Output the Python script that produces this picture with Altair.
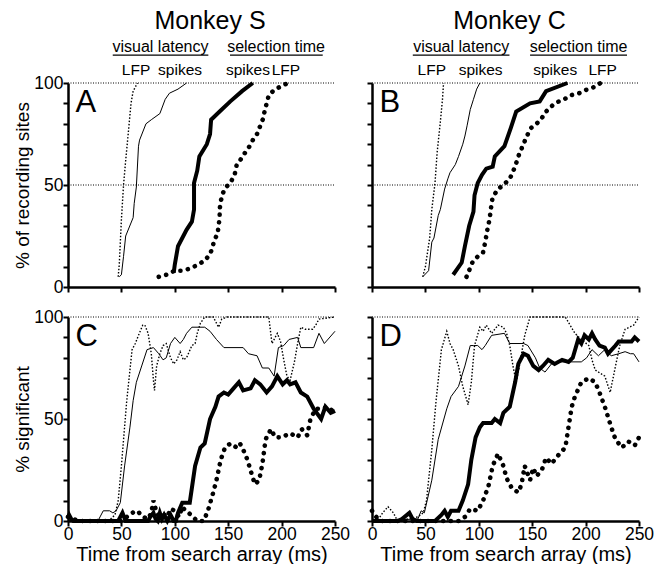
import altair as alt
import pandas as pd

FONT = "Liberation Sans"

# ---------------- data ----------------
# Panel A (Monkey S, cumulative % of recording sites)
A_lfp_vis_t = [47, 48, 50, 52, 54, 56, 59, 61, 65]
A_lfp_vis_v = [5, 11, 33, 50, 62, 73, 90, 96, 100]
A_spk_vis_t = [48, 50, 52, 54, 61, 62, 64, 66, 67, 73, 78, 86, 91, 95, 103, 111]
A_spk_vis_v = [5, 6, 15, 25, 34, 41, 49, 69, 72, 80, 82, 85, 92, 95, 97, 100]
A_spk_sel_t = [99, 100, 103, 111, 116, 118, 118, 121, 123, 130, 133, 134, 142, 152, 163, 173]
A_spk_sel_v = [7, 11, 20, 28, 32, 38, 51, 57, 64, 70, 75, 82, 86, 91, 96, 100]
A_lfp_sel_t = [85, 92, 100, 107, 114, 122, 128, 133, 135, 137, 140, 141, 142, 142, 143, 145, 148,
               152, 156, 158, 161, 166, 170, 173, 177, 180, 183, 184, 186, 188, 192, 198, 206]
A_lfp_sel_v = [5, 6, 8, 8, 9, 11, 13, 16, 19, 23, 26, 30, 34, 38, 42, 46, 49,
               51, 55, 60, 62, 66, 69, 72, 75, 79, 83, 86, 90, 94, 96, 98, 100]

# Panel B (Monkey C, cumulative % of recording sites)
B_lfp_vis_t = [47.5, 50, 54, 56, 59, 61, 64, 66, 67]
B_lfp_vis_v = [5, 10, 24, 38, 51, 66, 81, 92, 100]
B_spk_vis_t = [47.5, 53, 56, 58, 62, 64, 68, 71, 73, 78, 81, 85, 87, 89, 92, 95, 98, 101]
B_spk_vis_v = [5, 8, 22, 24, 35, 38, 48, 53, 56, 60, 64, 70, 74, 79, 87, 92, 97, 100]
B_spk_sel_t = [76, 84, 87, 91, 95, 96, 99, 103, 107, 113, 115, 124, 130, 135, 148, 157, 163, 183]
B_spk_sel_v = [6, 12, 20, 30, 37, 45, 51, 55, 58, 59, 64, 69, 78, 86, 90, 91, 96, 100]
B_lfp_sel_t = [88.5, 94, 99, 104, 106, 108, 110, 111, 112, 113, 118, 123, 129, 134, 137, 141, 145,
               149, 154, 158, 163, 169, 175, 180, 186, 194, 202, 208, 214]
B_lfp_sel_v = [5, 12, 15, 17, 22, 28, 33, 37, 41, 44, 48, 50, 53, 59, 64, 69, 74,
               78, 80, 82, 86, 89, 91, 92, 94, 95, 97, 98, 100]

# Panel C (Monkey S, % significant over time)
C_lfp_vis_t = [0, 36, 40, 44, 47, 50, 55, 60, 63, 66, 70, 72, 75, 78, 80, 81, 83, 86, 89, 92, 96,
               99, 102, 105, 108, 111, 116, 119, 121, 124, 128, 136, 141, 144, 149, 188, 191, 196,
               199, 202, 205, 208, 212, 215, 218, 222, 229, 232, 235, 250]
C_lfp_vis_v = [0, 0, 1, 3, 10, 27, 59, 84, 87, 91, 96, 96, 92, 82, 69, 64, 76, 82, 86, 87, 80,
               77, 79, 83, 79, 80, 86, 87, 92, 97, 100, 100, 95, 99, 100, 100, 87, 92,
               88, 79, 71, 69, 78, 87, 95, 94, 94, 96, 99, 100]
C_spk_vis_t = [0, 28, 30, 33, 39, 42, 45, 49, 53, 58, 61, 64, 69, 74, 80, 85, 89, 92, 96, 100,
               105, 108, 111, 116, 128, 133, 139, 146, 164, 169, 177, 182, 188, 193, 197, 202,
               207, 215, 218, 230, 235, 240, 250]
C_spk_vis_v = [0, 0, 2, 5, 5, 4, 5, 9, 27, 46, 59, 68, 76, 84, 85, 82, 79, 80, 87, 90,
               87, 89, 92, 95, 95, 93, 89, 85, 85, 82, 81, 75, 75, 71, 85, 86,
               89, 90, 85, 85, 92, 87, 93]
C_spk_sel_t = [0, 1, 3, 5, 47, 49, 51, 54, 75, 77, 80, 82, 84, 86, 88, 90, 93, 96, 99, 101, 103,
               107, 114, 119, 124, 128, 133, 138, 141, 146, 150, 155, 160, 164, 171, 175, 180,
               186, 191, 196, 201, 205, 208, 213, 218, 224, 230, 237, 241, 246, 250]
C_spk_sel_v = [2, 3, 1, 0, 0, 2, 4, 0, 0, 2, 4, 1, 0, 4, 1, 3, 0, 3, 0, 0, 4,
               9, 9, 27, 36, 38, 50, 56, 61, 63, 62, 65, 68, 64, 65, 69, 67,
               63, 66, 71, 67, 69, 67, 68, 63, 61, 55, 50, 56, 53, 54]
C_lfp_sel_t = [0, 10, 20, 30, 40, 50, 55, 60, 65, 70, 75, 78, 80, 83, 86, 90, 93, 96, 100, 104,
               107, 110, 113, 117, 121, 127, 131, 136, 139, 143, 147, 152, 158, 161, 164, 168,
               172, 175, 179, 182, 185, 190, 194, 200, 208, 215, 219, 224, 227, 232, 238, 243, 250]
C_lfp_sel_v = [2, 0, 0, 0, 0, 0, 2, 4, 5, 2, 1, 4, 10, 4, 2, 3, 2, 6, 5, 2,
               7, 5, 4, 2, 0, 0, 5, 14, 20, 30, 36, 38, 36, 38, 35, 30,
               23, 18, 20, 28, 40, 45, 41, 41, 43, 41, 45, 42, 50, 55, 55, 56, 53]

# Panel D (Monkey C, % significant over time)
D_lfp_vis_t = [0, 5, 10, 15, 20, 24, 43, 48, 51, 56, 60, 65, 70, 73, 76, 81, 85, 90, 93, 96, 101,
               104, 107, 112, 118, 123, 126, 129, 132, 135, 138, 143, 148, 181, 190, 196, 203,
               206, 209, 218, 223, 228, 232, 237, 245, 250]
D_lfp_vis_v = [0, 0, 4, 7, 4, 0, 2, 4, 10, 35, 59, 84, 93, 87, 84, 76, 66, 57, 68, 86, 95,
               93, 96, 92, 96, 95, 92, 86, 76, 68, 76, 91, 100, 100, 92, 89, 86,
               79, 74, 71, 63, 76, 86, 94, 96, 100]
D_spk_vis_t = [0, 43, 46, 49, 56, 62, 70, 74, 81, 87, 92, 95, 99, 103, 106, 112, 124, 129, 142,
               146, 153, 157, 162, 168, 174, 196, 201, 206, 212, 218, 224, 231, 237, 242, 245, 250]
D_spk_vis_v = [0, 1, 5, 4, 20, 40, 55, 61, 66, 76, 86, 86, 86, 84, 86, 91, 92, 87, 87,
               86, 80, 75, 73, 77, 78, 78, 80, 84, 81, 84, 81, 82, 83, 82, 82, 78]
D_spk_sel_t = [0, 24, 28, 35, 38, 42, 59, 65, 68, 71, 74, 81, 85, 90, 93, 97, 101, 104, 112, 115,
               120, 123, 129, 134, 137, 142, 146, 151, 156, 160, 165, 171, 178, 184, 188, 193,
               196, 199, 203, 206, 209, 213, 218, 221, 228, 231, 243, 246, 250]
D_spk_sel_v = [0, 0, 1, 4, 1, 0, 0, 3, 5, 2, 5, 5, 10, 18, 30, 41, 46, 48, 48, 50,
               48, 53, 56, 68, 77, 82, 81, 76, 74, 76, 79, 77, 79, 78, 80, 89,
               87, 91, 89, 92, 89, 86, 85, 82, 86, 88, 88, 90, 88]
D_lfp_sel_t = [0, 4, 8, 20, 40, 60, 81, 87, 92, 99, 104, 109, 113, 118, 123, 126, 131, 137, 140,
               143, 148, 151, 154, 159, 163, 168, 174, 181, 184, 187, 190, 196, 203, 209, 213,
               218, 224, 228, 234, 240, 246, 250]
D_lfp_sel_v = [5, 2, 0, 0, 0, 0, 0, 2, 6, 5, 10, 17, 27, 33, 27, 21, 16, 14, 18,
               27, 20, 26, 22, 25, 31, 28, 32, 36, 46, 56, 61, 68, 70, 68, 63,
               56, 46, 40, 36, 39, 37, 41]

X_TICKS = [0, 50, 100, 150, 200, 250]
Y_TICKS = [0, 10, 20, 30, 40, 50, 60, 70, 80, 90, 100]
X_TITLE = "Time from search array (ms)"

# ---------------- helpers ----------------
STYLES = {
    "lfp_vis": dict(strokeWidth=1.4, strokeDash=[1.5, 1.8]),
    "spk_vis": dict(strokeWidth=1.0),
    "spk_sel": dict(strokeWidth=4),
    "lfp_sel": dict(strokeWidth=4.6, strokeDash=[0.1, 7.5], strokeCap="round"),
}

W, H = 267, 204


def series_df(ts, vs):
    return pd.DataFrame({"x": ts, "y": vs, "o": list(range(len(ts)))})


def make_panel(series, letter, top, left, ytitle, refs, texts=None, lines=None):
    if top:
        xaxis = alt.Axis(values=X_TICKS, labels=False, title=None)
    else:
        xaxis = alt.Axis(values=X_TICKS, title=X_TITLE, titleFontSize=20, titleY=39,
                         titleBaseline="alphabetic", labelPadding=-1)
    xenc = alt.X("x:Q", scale=alt.Scale(domain=[0, 250], nice=False, zero=False), axis=xaxis)
    if left:
        yaxis = alt.Axis(values=Y_TICKS, labelExpr="datum.value % 50 == 0 ? datum.label : ''",
                         title=ytitle)
    else:
        yaxis = alt.Axis(values=Y_TICKS, labels=False, title=None)
    yenc = alt.Y("y:Q", scale=alt.Scale(domain=[0, 100], nice=False), axis=yaxis)

    ref_df = pd.DataFrame({"x": [0] * len(refs), "x2": [250] * len(refs), "y": refs})
    layers = [alt.Chart(ref_df).mark_rule(color="black", strokeWidth=1, strokeDash=[1, 1.5])
              .encode(x=xenc, x2="x2:Q", y=yenc)]
    for key in ["lfp_vis", "spk_vis", "lfp_sel", "spk_sel"]:
        ts, vs = series[key]
        layers.append(alt.Chart(series_df(ts, vs)).mark_line(color="black", **STYLES[key])
                      .encode(x=xenc, y=yenc, order="o:Q"))
    let_df = pd.DataFrame({"x": [7], "y": [86], "t": [letter]})
    layers.append(alt.Chart(let_df).mark_text(font=FONT, fontSize=31, align="left",
                                             baseline="alphabetic", color="black")
                  .encode(x=xenc, y=yenc, text="t:N"))
    if texts is not None:
        tdf = pd.DataFrame(texts, columns=["t", "x", "y", "fs"])
        layers.append(alt.Chart(tdf).mark_text(font=FONT, align="center", baseline="alphabetic",
                                               color="black")
                      .encode(x=xenc, y=yenc, text="t:N",
                              size=alt.Size("fs:Q", scale=None, legend=None)))
    if lines is not None:
        ldf = pd.DataFrame(lines, columns=["x", "x2", "y"])
        layers.append(alt.Chart(ldf).mark_rule(color="black", strokeWidth=1.2)
                      .encode(x=xenc, x2="x2:Q", y=yenc))
    return alt.layer(*layers).properties(width=W, height=H)


A = make_panel(
    {"lfp_vis": (A_lfp_vis_t, A_lfp_vis_v), "spk_vis": (A_spk_vis_t, A_spk_vis_v),
     "spk_sel": (A_spk_sel_t, A_spk_sel_v), "lfp_sel": (A_lfp_sel_t, A_lfp_sel_v)},
    "A", True, True, "% of recording sites", [50, 100],
    texts=[("Monkey S", 133, 126.5, 25), ("visual latency", 86.6, 115, 16),
           ("selection time", 194.8, 115, 16), ("LFP", 63.7, 104, 15.5),
           ("spikes", 104.9, 104, 15.5), ("spikes", 168.5, 104, 15.5), ("LFP", 204, 104, 15.5)],
    lines=[(41.9, 131.4, 113.7), (151.7, 238.5, 113.7)])

B = make_panel(
    {"lfp_vis": (B_lfp_vis_t, B_lfp_vis_v), "spk_vis": (B_spk_vis_t, B_spk_vis_v),
     "spk_sel": (B_spk_sel_t, B_spk_sel_v), "lfp_sel": (B_lfp_sel_t, B_lfp_sel_v)},
    "B", True, False, None, [50, 100],
    texts=[("Monkey C", 128.7, 126.5, 25), ("visual latency", 83.5, 115, 16),
           ("selection time", 193.4, 115, 16), ("LFP", 56, 104, 15.5),
           ("spikes", 101.7, 104, 15.5), ("spikes", 171.5, 104, 15.5), ("LFP", 216, 104, 15.5)],
    lines=[(38.2, 128.7, 113.7), (148, 238.8, 113.7)])

C = make_panel(
    {"lfp_vis": (C_lfp_vis_t, C_lfp_vis_v), "spk_vis": (C_spk_vis_t, C_spk_vis_v),
     "spk_sel": (C_spk_sel_t, C_spk_sel_v), "lfp_sel": (C_lfp_sel_t, C_lfp_sel_v)},
    "C", False, True, "% significant", [100])

D = make_panel(
    {"lfp_vis": (D_lfp_vis_t, D_lfp_vis_v), "spk_vis": (D_spk_vis_t, D_spk_vis_v),
     "spk_sel": (D_spk_sel_t, D_spk_sel_v), "lfp_sel": (D_lfp_sel_t, D_lfp_sel_v)},
    "D", False, False, None, [100])

chart = alt.concat(A, B, C, D, columns=2, spacing={"row": 30, "column": 37},
                   bounds="flush").properties(
    padding={"left": 13, "top": 8, "right": 5, "bottom": 0}
).configure_view(strokeWidth=0).configure_axis(
    domainColor="black", domainWidth=2.5, tickColor="black", tickWidth=2, tickSize=5,
    labelFont=FONT, labelFontSize=17.5, labelColor="black", labelPadding=0,
    titleFont=FONT, titleFontSize=19, titleFontWeight="normal", titleColor="black",
    titlePadding=1, grid=False, labelFlush=False, labelOverlap=False
)

chart.save("out.html", embed_options={"renderer": "svg", "actions": False})
